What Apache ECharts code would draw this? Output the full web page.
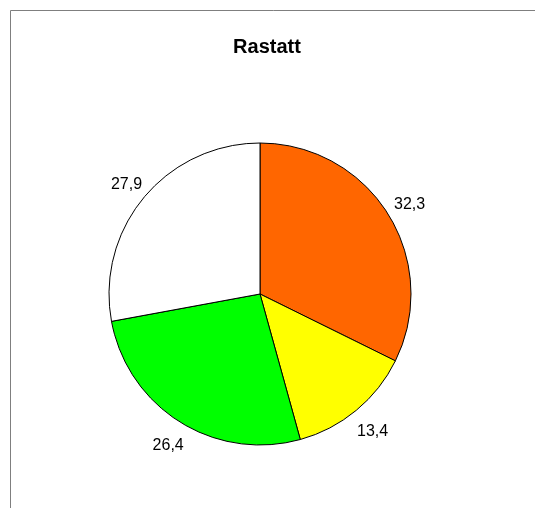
<!DOCTYPE html>
<html>
<head>
<meta charset="utf-8">
<script src="https://cdn.jsdelivr.net/npm/echarts@6/dist/echarts.min.js"></script>
<style>
  html, body { margin: 0; padding: 0; background: #fff; }
  #chart { width: 535px; height: 508px; }
</style>
</head>
<body>
<div id="chart"></div>
<script>
// Werte (im Uhrzeigersinn ab 12 Uhr)
const categories = ["A", "B", "C", "D"];
const values = [32.3, 13.4, 26.4, 27.9];
const labels = ["32,3", "13,4", "26,4", "27,9"];
const colors = ["#FF6600", "#FFFF00", "#00FF00", "#FFFFFF"];

let pieData = categories.map((c, i) => ({
  name: c,
  value: values[i],
  itemStyle: { color: colors[i] }
}));

// zweiter, unsichtbarer Ring nur fuer die Beschriftung
let labelData = categories.map((c, i) => ({
  name: c,
  value: values[i],
  label: { formatter: labels[i] }
}));

let mychart = echarts.init(document.getElementById("chart"), null, { renderer: "canvas" });
mychart.setOption({
  animation: false,
  backgroundColor: "#fff",
  title: {
    text: "Rastatt",
    left: 262,
    top: 32,
    textAlign: "center",
    textStyle: {
      fontFamily: "Liberation Sans, Arial, sans-serif",
      fontSize: 20,
      fontWeight: "bold",
      color: "#000"
    }
  },
  graphic: [
    {
      type: "rect",
      shape: { x: 10.5, y: 10.5, width: 700, height: 700 },
      style: { fill: null, stroke: "#7f7f7f", lineWidth: 1 },
      silent: true
    }
  ],
  series: [
    {
      type: "pie",
      center: [260, 294],
      radius: [0, 151],
      startAngle: 90,
      clockwise: true,
      label: { show: false },
      labelLine: { show: false },
      itemStyle: { borderColor: "#000", borderWidth: 1 },
      emphasis: { disabled: true },
      data: pieData
    },
    {
      type: "pie",
      center: [261, 297],
      radius: [164, 180],
      startAngle: 90,
      clockwise: true,
      silent: true,
      itemStyle: { color: "rgba(0,0,0,0)" },
      label: {
        show: true,
        position: "inside",
        fontFamily: "Liberation Sans, Arial, sans-serif",
        fontSize: 16,
        color: "#000"
      },
      labelLine: { show: false },
      emphasis: { disabled: true },
      data: labelData
    }
  ]
});
</script>
</body>
</html>
